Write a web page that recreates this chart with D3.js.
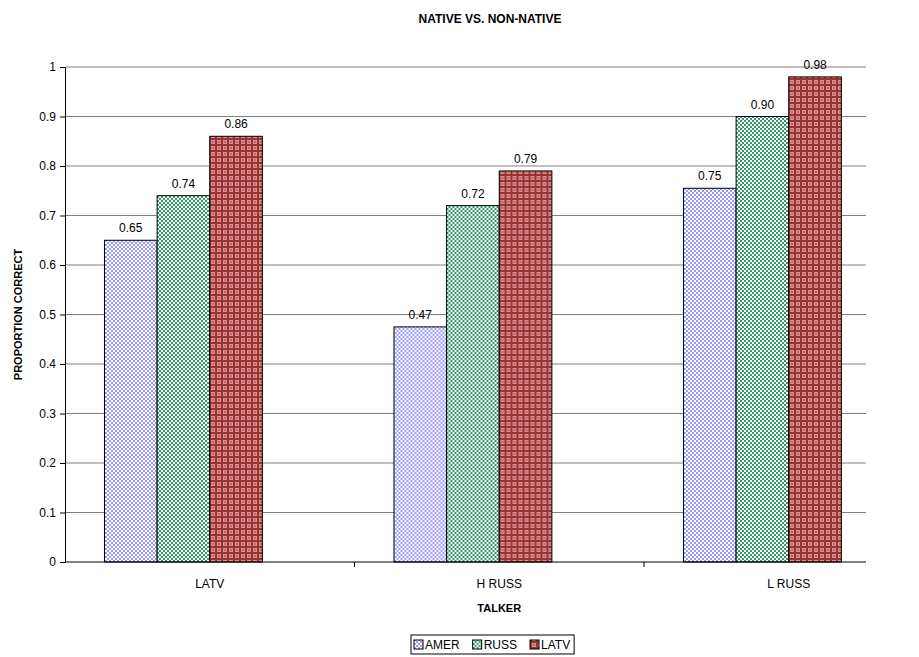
<!DOCTYPE html>
<html>
<head>
<script src="https://d3js.org/d3.v7.min.js"></script>
<title>Native vs. non-native</title>
<style>
  body { margin: 0; background: #fff; }
  svg text { font-family: "Liberation Sans", Arial, sans-serif; fill: #000; }
</style>
</head>
<body>
<div id="chart"></div>
<script>
// chart values
var talkers = ["LATV", "H RUSS", "L RUSS"];
var seriesNames = ["AMER", "RUSS", "LATV"];
var amer = [0.65, 0.475, 0.755];
var russ = [0.74, 0.72, 0.90];
var latv = [0.86, 0.79, 0.98];
var amerLabels = ["0.65", "0.47", "0.75"];
var russLabels = ["0.74", "0.72", "0.90"];
var latvLabels = ["0.86", "0.79", "0.98"];
var yTicks = [0, 0.1, 0.2, 0.3, 0.4, 0.5, 0.6, 0.7, 0.8, 0.9, 1];

var W = 919, H = 657;
var pLeft = 65, pRight = 866, pTop = 67, pBottom = 562;
// category axis runs past the visible grid (source chart was cropped on the right)
var catRight = 933.5;

var svg = d3.select("#chart").append("svg")
    .attr("width", W)
    .attr("height", H);

// fill patterns like the old spreadsheet ones
var defs = svg.append("defs");

function checker(id, col) {
  var p = defs.append("pattern").attr("id", id)
      .attr("width", 4).attr("height", 4)
      .attr("patternUnits", "userSpaceOnUse");
  p.append("rect").attr("width", 4).attr("height", 4).attr("fill", "#fff");
  p.append("rect").attr("width", 2).attr("height", 2).attr("fill", col);
  p.append("rect").attr("x", 2).attr("y", 2).attr("width", 2).attr("height", 2).attr("fill", col);
}
checker("pAmer", "#9999ff");
checker("pRuss", "#339966");

var pl = defs.append("pattern").attr("id", "pLatv")
    .attr("width", 6).attr("height", 6)
    .attr("patternUnits", "userSpaceOnUse");
pl.append("rect").attr("width", 6).attr("height", 6).attr("fill", "#993333");
pl.append("rect").attr("x", 2).attr("y", 2).attr("width", 4).attr("height", 4).attr("fill", "#d99090");
pl.append("rect").attr("x", 3).attr("y", 3).attr("width", 2).attr("height", 2).attr("fill", "#c06666");

var fills = ["url(#pAmer)", "url(#pRuss)", "url(#pLatv)"];

// scales
var y = d3.scaleLinear().domain([0, 1]).range([pBottom, pTop]);
var x0 = d3.scaleBand().domain(talkers).range([pLeft, catRight]);
// four slots per group: the last one stays empty, gap of 150% split on both sides
var x1 = d3.scaleBand().domain(seriesNames.concat(["empty"]))
    .range([0, x0.bandwidth()]).paddingOuter(0.75);

// gridlines
svg.append("g").selectAll("line")
  .data(yTicks.slice(1))
  .enter().append("line")
    .attr("x1", pLeft).attr("x2", pRight)
    .attr("y1", function(d) { return y(d); })
    .attr("y2", function(d) { return y(d); })
    .attr("stroke", "#808080")
    .attr("stroke-width", 1);

// bars
var table = talkers.map(function(t, i) {
  return [
    { s: "AMER", v: amer[i], lab: amerLabels[i], f: fills[0] },
    { s: "RUSS", v: russ[i], lab: russLabels[i], f: fills[1] },
    { s: "LATV", v: latv[i], lab: latvLabels[i], f: fills[2] }
  ];
});

var groups = svg.append("g").selectAll("g")
  .data(table)
  .enter().append("g")
    .attr("transform", function(d, i) { return "translate(" + x0(talkers[i]) + ",0)"; });

groups.selectAll("rect")
  .data(function(d) { return d; })
  .enter().append("rect")
    .attr("x", function(d) { return x1(d.s); })
    .attr("y", function(d) { return y(d.v); })
    .attr("width", x1.bandwidth())
    .attr("height", function(d) { return pBottom - y(d.v); })
    .attr("fill", function(d) { return d.f; })
    .attr("stroke", "#000")
    .attr("stroke-width", 1);

groups.selectAll("text")
  .data(function(d) { return d; })
  .enter().append("text")
    .attr("x", function(d) { return x1(d.s) + x1.bandwidth() / 2; })
    .attr("y", function(d) { return y(d.v) - 8; })
    .attr("text-anchor", "middle")
    .attr("font-size", "12px")
    .text(function(d) { return d.lab; });

// axes
var yAxis = d3.axisLeft(y).tickValues(yTicks).tickSize(5).tickPadding(4)
  .tickFormat(function(d) { return d3.format("")(+d.toFixed(1)); });
var gy = svg.append("g").attr("transform", "translate(" + pLeft + ",0)").call(yAxis);
gy.select(".domain").attr("stroke", "#000");
gy.selectAll("text").attr("font-size", "12px").attr("font-family", "Liberation Sans, Arial, sans-serif");

var xAxis = d3.axisBottom(x0).tickSize(0).tickPadding(17);
var gx = svg.append("g").attr("transform", "translate(0," + pBottom + ")").call(xAxis);
gx.select(".domain").attr("d", "M" + pLeft + ",0H" + pRight).attr("stroke", "#000");
gx.selectAll("text").attr("font-size", "12px").attr("font-family", "Liberation Sans, Arial, sans-serif");
// tick marks between categories
gx.selectAll(".sep")
  .data(talkers.slice(1))
  .enter().append("line")
    .attr("x1", function(d) { return x0(d); })
    .attr("x2", function(d) { return x0(d); })
    .attr("y1", 0).attr("y2", 5)
    .attr("stroke", "#000");

// titles
svg.append("text")
  .attr("x", 490).attr("y", 23)
  .attr("text-anchor", "middle")
  .attr("font-size", "12px").attr("font-weight", "bold")
  .text("NATIVE VS. NON-NATIVE");

svg.append("text")
  .attr("x", (pLeft + catRight) / 2).attr("y", 612)
  .attr("text-anchor", "middle")
  .attr("font-size", "11px").attr("font-weight", "bold")
  .text("TALKER");

svg.append("text")
  .attr("transform", "translate(22," + ((pTop + pBottom) / 2) + ") rotate(-90)")
  .attr("text-anchor", "middle")
  .attr("font-size", "11px").attr("font-weight", "bold")
  .text("PROPORTION CORRECT");

// legend
var lg = svg.append("g").attr("transform", "translate(411,635)");
var frame = lg.append("rect")
  .attr("height", 19)
  .attr("fill", "#fff").attr("stroke", "#000");
var lx = 3;
seriesNames.forEach(function(name, i) {
  var it = lg.append("g").attr("transform", "translate(" + lx + ",0)");
  it.append("rect")
    .attr("y", 5).attr("width", 9).attr("height", 9)
    .attr("fill", fills[i])
    .attr("stroke", "#000");
  var t = it.append("text")
    .attr("x", 11).attr("y", 14)
    .attr("font-size", "12px")
    .text(name);
  lx += 11 + t.node().getComputedTextLength() + (i < seriesNames.length - 1 ? 13 : 4);
});
frame.attr("width", lx);
</script>
</body>
</html>
